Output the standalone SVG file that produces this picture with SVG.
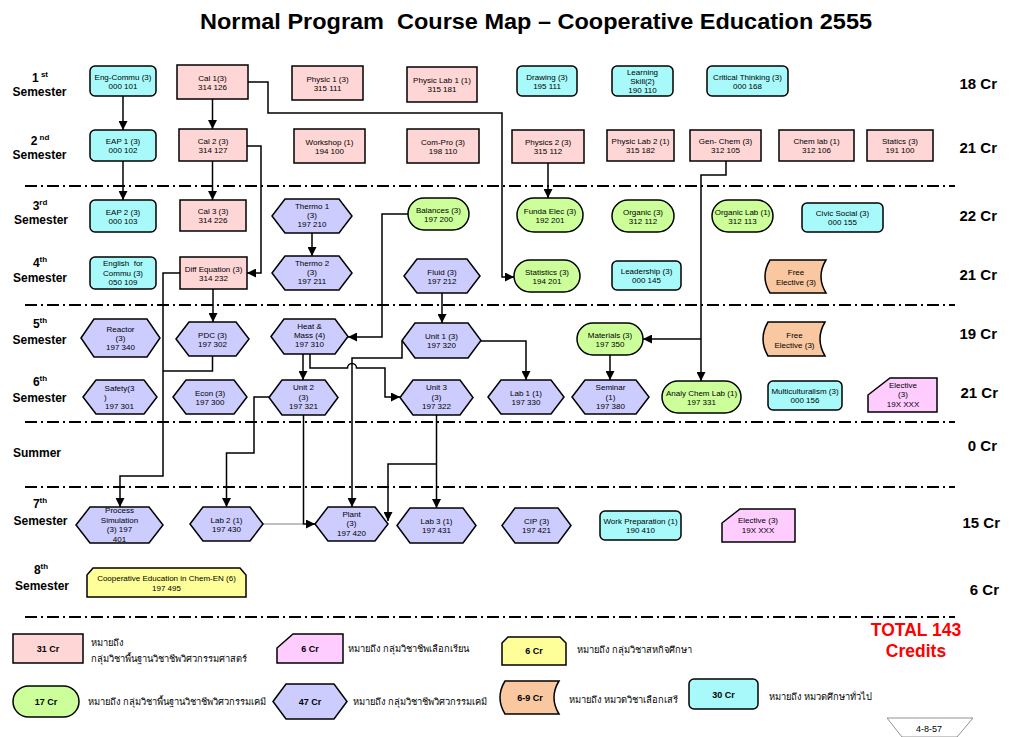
<svg xmlns="http://www.w3.org/2000/svg" width="1024" height="737" viewBox="0 0 1024 737">
<style>
.pk{fill:#FFD6D6;stroke:#000;stroke-width:1.5}
.cy{fill:#A8FAFA;stroke:#000;stroke-width:1.5}
.gr{fill:#CCFF99;stroke:#000;stroke-width:1.5}
.hx{fill:#CCCCFF;stroke:#000;stroke-width:1.5}
.or{fill:#F9C8A0;stroke:#000;stroke-width:1.5}
.el{fill:#FFCCFF;stroke:#000;stroke-width:1.5}
.ye{fill:#FFFF99;stroke:#000;stroke-width:1.5}
text{font-family:"Liberation Sans",Arial,sans-serif;fill:#000}
.t{font-size:8px;text-anchor:middle}
.sem{font-size:12px;font-weight:bold;text-anchor:middle}
.sup{font-size:8px}
.cr{font-size:15px;font-weight:bold;text-anchor:end}
.lg{font-size:9px;font-weight:bold;text-anchor:middle}
.th{font-family:"Noto Sans","DejaVu Sans","Liberation Sans",sans-serif;font-size:9.3px}
.dd{stroke:#000;stroke-width:2;stroke-dasharray:12 4 2 4;fill:none}
.c{fill:none;stroke:#000;stroke-width:1.5}
.ca{fill:none;stroke:#000;stroke-width:1.5;marker-end:url(#ah)}
</style>
<defs>
<marker id="ah" viewBox="0 0 10 10" refX="10" refY="5" markerWidth="9" markerHeight="9" markerUnits="userSpaceOnUse" orient="auto"><path d="M0,0L10,5L0,10z" fill="#000"/></marker>
</defs>
<rect width="1024" height="737" fill="#fff"/>
<text x="536" y="29" font-size="22" font-weight="bold" text-anchor="middle" textLength="672" lengthAdjust="spacingAndGlyphs" xml:space="preserve">Normal Program  Course Map – Cooperative Education 2555</text>

<g id="semester-labels">
<text class="sem" x="40" y="82">1<tspan class="sup" dy="-5"> st</tspan></text>
<text class="sem" x="39.5" y="96">Semester</text>
<text class="sem" x="40" y="145">2<tspan class="sup" dy="-5"> nd</tspan></text>
<text class="sem" x="39.5" y="159">Semester</text>
<text class="sem" x="40" y="210">3<tspan class="sup" dy="-5">rd</tspan></text>
<text class="sem" x="41" y="224">Semester</text>
<text class="sem" x="40" y="267">4<tspan class="sup" dy="-5">th</tspan></text>
<text class="sem" x="40" y="282">Semester</text>
<text class="sem" x="40" y="328">5<tspan class="sup" dy="-5">th</tspan></text>
<text class="sem" x="39.5" y="344">Semester</text>
<text class="sem" x="40" y="386">6<tspan class="sup" dy="-5">th</tspan></text>
<text class="sem" x="39.5" y="402">Semester</text>
<text class="sem" x="37" y="457">Summer</text>
<text class="sem" x="40" y="508">7<tspan class="sup" dy="-5">th</tspan></text>
<text class="sem" x="40.5" y="525">Semester</text>
<text class="sem" x="41" y="574">8<tspan class="sup" dy="-5">th</tspan></text>
<text class="sem" x="42" y="590">Semester</text>
</g>

<g id="credits">
<text class="cr" x="997" y="89">18 Cr</text>
<text class="cr" x="997" y="153">21 Cr</text>
<text class="cr" x="997" y="221">22 Cr</text>
<text class="cr" x="997" y="280">21 Cr</text>
<text class="cr" x="997" y="339">19 Cr</text>
<text class="cr" x="998" y="398">21 Cr</text>
<text class="cr" x="997" y="451">0 Cr</text>
<text class="cr" x="1000" y="528">15 Cr</text>
<text class="cr" x="999" y="595">6 Cr</text>
</g>

<g id="dividers">
<line class="dd" x1="25" y1="186" x2="955" y2="186"/>
<line class="dd" x1="25" y1="305" x2="955" y2="305"/>
<line class="dd" x1="25" y1="422" x2="955" y2="422"/>
<line class="dd" x1="25" y1="487" x2="955" y2="487"/>
<line class="dd" x1="25" y1="617" x2="955" y2="617"/>
</g>

<g id="connectors">
<path class="ca" d="M123,96V130"/>
<path class="ca" d="M123,161V200"/>
<path class="ca" d="M212.5,99V129"/>
<path class="ca" d="M212.5,161V200"/>
<path class="ca" d="M248,82H268V113H502V277H514"/>
<path class="ca" d="M247,146H261V273H247"/>
<path class="ca" d="M213,289V322"/>
<path class="ca" d="M180,273H163V476H120V507"/>
<path class="c" d="M212.5,356V371H163"/>
<path class="ca" d="M312,233V256"/>
<path class="ca" d="M408,214H382V337H348"/>
<path class="ca" d="M442,293V323"/>
<path class="ca" d="M481,341H526V380"/>
<path class="ca" d="M402,341V358H352V507"/>
<path class="ca" d="M303,354V380"/>
<path class="ca" d="M310,354V368H347.5A4.5,4.5 0 0 1 356.5,368H385V397H400"/>
<path class="ca" d="M269,397H254V453H226.5V507"/>
<path d="M263,524H303" fill="none" stroke="#AAAAAA" stroke-width="1.5"/>
<path class="ca" d="M303.5,415V524H315"/>
<path class="ca" d="M436.5,415V508"/>
<path class="ca" d="M436.5,464H388V521"/>
<path class="ca" d="M548,163V198"/>
<path class="ca" d="M726,161V175H701V381"/>
<path class="ca" d="M701,339H643"/>
<path class="ca" d="M610,355V380"/>
</g>

<!-- Row 1 -->
<g id="n-engcommu"><rect class="cy" x="90" y="66" width="66" height="30" rx="5"/><text class="t" x="123" y="79.5">Eng-Commu (3)</text><text class="t" x="123" y="88.5">000 101</text></g>
<g id="n-cal1"><rect class="pk" x="177" y="65" width="71" height="34"/><text class="t" x="212.5" y="80.5">Cal 1(3)</text><text class="t" x="212.5" y="89.5">314 126</text></g>
<g id="n-physic1"><rect class="pk" x="292" y="66" width="71" height="34"/><text class="t" x="327.5" y="81.5">Physic 1 (3)</text><text class="t" x="327.5" y="90.5">315 111</text></g>
<g id="n-physiclab1"><rect class="pk" x="407" y="67" width="70" height="35"/><text class="t" x="442" y="83">Physic Lab 1 (1)</text><text class="t" x="442" y="92">315 181</text></g>
<g id="n-drawing"><rect class="cy" x="517" y="66" width="60" height="30" rx="5"/><text class="t" x="547" y="79.5">Drawing (3)</text><text class="t" x="547" y="88.5">195 111</text></g>
<g id="n-learning"><rect class="cy" x="612" y="66" width="61" height="30" rx="5"/><text class="t" x="642.5" y="74.5">Learning</text><text class="t" x="642.5" y="83.5">Skill(2)</text><text class="t" x="642.5" y="92.5">190 110</text></g>
<g id="n-critical"><rect class="cy" x="707" y="66" width="81" height="30" rx="5"/><text class="t" x="747.5" y="79.5">Critical Thinking (3)</text><text class="t" x="747.5" y="88.5">000 168</text></g>

<!-- Row 2 -->
<g id="n-eap1"><rect class="cy" x="90" y="130" width="66" height="31" rx="5"/><text class="t" x="123" y="144">EAP 1 (3)</text><text class="t" x="123" y="153">000 102</text></g>
<g id="n-cal2"><rect class="pk" x="179" y="129" width="68" height="32"/><text class="t" x="213" y="143.5">Cal 2 (3)</text><text class="t" x="213" y="152.5">314 127</text></g>
<g id="n-workshop"><rect class="pk" x="294" y="129" width="71" height="34"/><text class="t" x="329.5" y="144.5">Workshop (1)</text><text class="t" x="329.5" y="153.5">194 100</text></g>
<g id="n-compro"><rect class="pk" x="407" y="129" width="72" height="34"/><text class="t" x="443" y="144.5">Com-Pro (3)</text><text class="t" x="443" y="153.5">198 110</text></g>
<g id="n-physics2"><rect class="pk" x="512" y="130" width="72" height="33"/><text class="t" x="548" y="145">Physics 2 (3)</text><text class="t" x="548" y="154">315 112</text></g>
<g id="n-physiclab2"><rect class="pk" x="607" y="130" width="67" height="31"/><text class="t" x="640.5" y="144">Physic Lab 2 (1)</text><text class="t" x="640.5" y="153">315 182</text></g>
<g id="n-genchem"><rect class="pk" x="690" y="130" width="71" height="31"/><text class="t" x="725.5" y="144">Gen- Chem (3)</text><text class="t" x="725.5" y="153">312 105</text></g>
<g id="n-chemlab"><rect class="pk" x="779" y="130" width="75" height="31"/><text class="t" x="816.5" y="144">Chem lab (1)</text><text class="t" x="816.5" y="153">312 106</text></g>
<g id="n-statics"><rect class="pk" x="867" y="130" width="66" height="31"/><text class="t" x="900" y="144">Statics (3)</text><text class="t" x="900" y="153">191 100</text></g>

<!-- Row 3 -->
<g id="n-eap2"><rect class="cy" x="90" y="200" width="66" height="32" rx="5"/><text class="t" x="123" y="214.5">EAP 2 (3)</text><text class="t" x="123" y="223.5">000 103</text></g>
<g id="n-cal3"><rect class="pk" x="180" y="200" width="66" height="31"/><text class="t" x="213" y="214">Cal 3 (3)</text><text class="t" x="213" y="223">314 226</text></g>
<g id="n-thermo1"><polygon class="hx" points="272,216 285,199 339,199 352,216 339,233 285,233"/><text class="t" x="312" y="209">Thermo 1</text><text class="t" x="312" y="218">(3)</text><text class="t" x="312" y="227">197 210</text></g>
<g id="n-balances"><rect class="gr" x="408" y="198" width="61" height="32" rx="16"/><text class="t" x="438.5" y="212.5">Balances (3)</text><text class="t" x="438.5" y="221.5">197 200</text></g>
<g id="n-fundaelec"><rect class="gr" x="517" y="198" width="66" height="34" rx="17"/><text class="t" x="550" y="213.5">Funda Elec (3)</text><text class="t" x="550" y="222.5">192 201</text></g>
<g id="n-organic"><rect class="gr" x="612" y="200" width="62" height="32" rx="16"/><text class="t" x="643" y="214.5">Organic (3)</text><text class="t" x="643" y="223.5">312 112</text></g>
<g id="n-organiclab"><rect class="gr" x="712" y="200" width="61" height="32" rx="16"/><text class="t" x="742.5" y="214.5">Organic Lab (1)</text><text class="t" x="742.5" y="223.5">312 113</text></g>
<g id="n-civic"><rect class="cy" x="802" y="203" width="81" height="29" rx="5"/><text class="t" x="842.5" y="216">Civic Social (3)</text><text class="t" x="842.5" y="225">000 155</text></g>

<!-- Row 4 -->
<g id="n-engfor"><rect class="cy" x="90" y="257" width="66" height="32" rx="5"/><text class="t" x="123" y="266" xml:space="preserve">English  for</text><text class="t" x="123" y="275.5">Commu (3)</text><text class="t" x="123" y="285">050 109</text></g>
<g id="n-diffeq"><rect class="pk" x="180" y="257" width="67" height="32"/><text class="t" x="213.5" y="271.5">Diff Equation (3)</text><text class="t" x="213.5" y="280.5">314 232</text></g>
<g id="n-thermo2"><polygon class="hx" points="272,273 285,256 339,256 352,273 339,290 285,290"/><text class="t" x="312" y="266">Thermo 2</text><text class="t" x="312" y="275">(3)</text><text class="t" x="312" y="284">197 211</text></g>
<g id="n-fluid"><polygon class="hx" points="404,276 417,259 467,259 480,276 467,293 417,293"/><text class="t" x="442" y="274.5">Fluid (3)</text><text class="t" x="442" y="283.5">197 212</text></g>
<g id="n-statistics"><rect class="gr" x="514" y="260" width="66" height="32" rx="16"/><text class="t" x="547" y="274.5">Statistics (3)</text><text class="t" x="547" y="283.5">194 201</text></g>
<g id="n-leadership"><rect class="cy" x="612" y="261" width="69" height="29" rx="5"/><text class="t" x="646.5" y="274">Leadership (3)</text><text class="t" x="646.5" y="283">000 145</text></g>
<g id="n-free1"><path class="or" d="M770,260H826Q816,276.5 826,293H770Q760,276.5 770,260Z"/><text class="t" x="796" y="275">Free</text><text class="t" x="796" y="285">Elective (3)</text></g>

<!-- Row 5 -->
<g id="n-reactor"><polygon class="hx" points="81,338 94,319 147,319 160,338 147,357 94,357"/><text class="t" x="120.5" y="331.5">Reactor</text><text class="t" x="120.5" y="340.5">(3)</text><text class="t" x="120.5" y="350">197 340</text></g>
<g id="n-pdc"><polygon class="hx" points="176,339 189,322 236,322 249,339 236,356 189,356"/><text class="t" x="212.5" y="337.5">PDC (3)</text><text class="t" x="212.5" y="346.5">197 302</text></g>
<g id="n-heatmass"><polygon class="hx" points="271,336.5 284,319 335,319 348,336.5 335,354 284,354"/><text class="t" x="309.5" y="329">Heat &amp;</text><text class="t" x="309.5" y="338">Mass (4)</text><text class="t" x="309.5" y="347">197 310</text></g>
<g id="n-unit1"><polygon class="hx" points="402,340.5 415,323 468,323 481,340.5 468,358 415,358"/><text class="t" x="441.5" y="339">Unit 1 (3)</text><text class="t" x="441.5" y="348">197 320</text></g>
<g id="n-materials"><rect class="gr" x="577" y="323" width="66" height="32" rx="16"/><text class="t" x="610" y="337.5">Materials (3)</text><text class="t" x="610" y="346.5">197 350</text></g>
<g id="n-free2"><path class="or" d="M768,322H825Q815,339 825,356H768Q758,339 768,322Z"/><text class="t" x="794.5" y="337.5">Free</text><text class="t" x="794.5" y="347.5">Elective (3)</text></g>

<!-- Row 6 -->
<g id="n-safety"><polygon class="hx" points="83,397 96,380 144,380 157,397 144,414 96,414"/><text class="t" x="119.5" y="391">Safety(3</text><text x="104" y="399.5" font-size="8">)</text><text class="t" x="119.5" y="409">197 301</text></g>
<g id="n-econ"><polygon class="hx" points="173,397 186,380 234,380 247,397 234,414 186,414"/><text class="t" x="210" y="395.5">Econ (3)</text><text class="t" x="210" y="404.5">197 300</text></g>
<g id="n-unit2"><polygon class="hx" points="269,397.5 282,380 325,380 338,397.5 325,415 282,415"/><text class="t" x="303.5" y="390">Unit 2</text><text class="t" x="303.5" y="399.5">(3)</text><text class="t" x="303.5" y="409">197 321</text></g>
<g id="n-unit3"><polygon class="hx" points="400,397.5 413,380 460,380 473,397.5 460,415 413,415"/><text class="t" x="436.5" y="390">Unit 3</text><text class="t" x="436.5" y="399.5">(3)</text><text class="t" x="436.5" y="409">197 322</text></g>
<g id="n-lab1"><polygon class="hx" points="488,397 501,380 551,380 564,397 551,414 501,414"/><text class="t" x="526" y="395.5">Lab 1 (1)</text><text class="t" x="526" y="404.5">197 330</text></g>
<g id="n-seminar"><polygon class="hx" points="572,397 585,380 636,380 649,397 636,414 585,414"/><text class="t" x="610.5" y="390">Seminar</text><text class="t" x="610.5" y="399.5">(1)</text><text class="t" x="610.5" y="409">197 380</text></g>
<g id="n-analy"><rect class="gr" x="662" y="381" width="79" height="32" rx="16"/><text class="t" x="701.5" y="395.5">Analy Chem Lab (1)</text><text class="t" x="701.5" y="404.5">197 331</text></g>
<g id="n-multi"><rect class="cy" x="768" y="381" width="74" height="29" rx="5"/><text class="t" x="805" y="394">Multiculturalism (3)</text><text class="t" x="805" y="403">000 156</text></g>
<g id="n-elective6"><path class="el" d="M868,395L890,378H937V412H868Z"/><text class="t" x="903" y="388">Elective</text><text class="t" x="903" y="397">(3)</text><text class="t" x="903" y="406.5">19X XXX</text></g>

<!-- Row 7 -->
<g id="n-procsim"><polygon class="hx" points="76,525 90,507 149,507 163,525 149,543 90,543"/><text class="t" x="119.5" y="513">Process</text><text class="t" x="119.5" y="522.5">Simulation</text><text class="t" x="119.5" y="532">(3) 197</text><text class="t" x="119.5" y="541.5">401</text></g>
<g id="n-lab2"><polygon class="hx" points="190,524 203,507 250,507 263,524 250,541 203,541"/><text class="t" x="226.5" y="522.5">Lab 2 (1)</text><text class="t" x="226.5" y="531.5">197 430</text></g>
<g id="n-plant"><polygon class="hx" points="315,524 328,507 375,507 388,524 375,541 328,541"/><text class="t" x="351.5" y="516.5">Plant</text><text class="t" x="351.5" y="526">(3)</text><text class="t" x="351.5" y="535.5">197 420</text></g>
<g id="n-lab3"><polygon class="hx" points="397,525.5 410,508 463,508 476,525.5 463,543 410,543"/><text class="t" x="436.5" y="524">Lab 3 (1)</text><text class="t" x="436.5" y="533">197 431</text></g>
<g id="n-cip"><polygon class="hx" points="502,525.5 515,508 558,508 571,525.5 558,543 515,543"/><text class="t" x="536.5" y="524">CIP (3)</text><text class="t" x="536.5" y="533">197 421</text></g>
<g id="n-workprep"><rect class="cy" x="600" y="511" width="81" height="29" rx="5"/><text class="t" x="640.5" y="523.5">Work Preparation (1)</text><text class="t" x="640.5" y="532.5">190 410</text></g>
<g id="n-elective7"><path class="el" d="M722,523L740,509H795V542H722Z"/><text class="t" x="758" y="523">Elective (3)</text><text class="t" x="758" y="533">19X XXX</text></g>

<!-- Row 8 -->
<g id="n-coop"><path class="ye" d="M87,575L93,568H240L246,575V597H87Z"/><text class="t" x="166.5" y="581">Cooperative Education in Chem-EN (6)</text><text class="t" x="166.5" y="590.5">197 495</text></g>

<!-- Legend -->
<g id="legend">
<rect class="pk" x="13" y="634" width="70" height="29"/><text class="lg" x="48" y="652">31 Cr</text>
<text class="th" x="91" y="646">หมายถึง</text>
<text class="th" x="91" y="662">กลุ่มวิชาพื้นฐานวิชาชีพวิศวกรรมศาสตร์</text>
<path class="el" d="M277,648L293,634H343V663H277Z"/><text class="lg" x="310" y="652">6 Cr</text>
<text class="th" x="348" y="652">หมายถึง กลุ่มวิชาชีพเลือกเรียน</text>
<path class="ye" d="M502,643L508,637H560L566,643V665H502Z"/><text class="lg" x="534" y="654">6 Cr</text>
<text class="th" x="577" y="653">หมายถึง กลุ่มวิชาสหกิจศึกษา</text>
<rect class="gr" x="13" y="686" width="66" height="31" rx="15.5"/><text class="lg" x="46" y="705">17 Cr</text>
<text class="th" x="88" y="705">หมายถึง กลุ่มวิชาพื้นฐานวิชาชีพวิศวกรรมเคมี</text>
<polygon class="hx" points="273,701.5 286,684 334,684 347,701.5 334,719 286,719"/><text class="lg" x="310" y="705">47 Cr</text>
<text class="th" x="353" y="705">หมายถึง กลุ่มวิชาชีพวิศวกรรมเคมี</text>
<path class="or" d="M505,681H559Q549,697.5 559,714H505Q495,697.5 505,681Z"/><text class="lg" x="530" y="701">6-9 Cr</text>
<text class="th" x="569" y="703">หมายถึง หมวดวิชาเลือกเสรี</text>
<rect class="cy" x="689" y="679" width="69" height="30" rx="5"/><text class="lg" x="723.5" y="698">30 Cr</text>
<text class="th" x="769" y="700">หมายถึง หมวดศึกษาทั่วไป</text>
<text x="916" y="636" font-size="17.5" font-weight="bold" text-anchor="middle" style="fill:#FF0000">TOTAL 143</text>
<text x="916" y="657" font-size="17.5" font-weight="bold" text-anchor="middle" style="fill:#FF0000">Credits</text>
<path d="M887,718H973L957,737H902Z" fill="#fff" stroke="#777" stroke-width="0.8"/>
<text x="929" y="732" font-size="9" text-anchor="middle">4-8-57</text>
</g>
</svg>
